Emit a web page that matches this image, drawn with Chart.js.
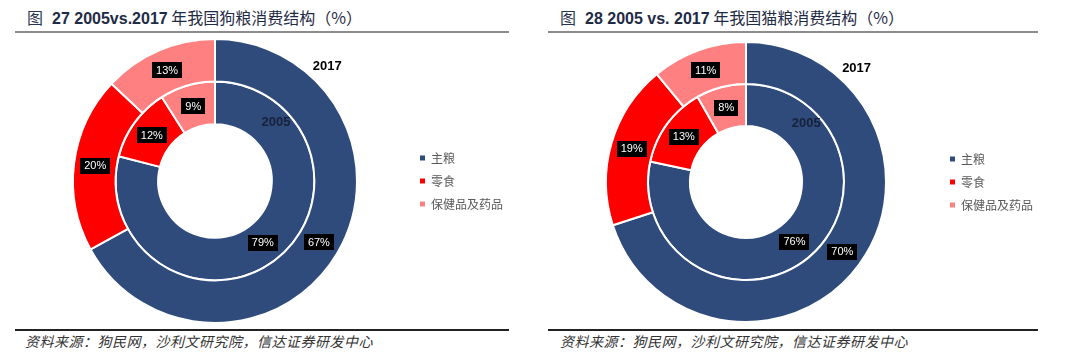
<!DOCTYPE html>
<html>
<head>
<meta charset="utf-8">
<script src="https://cdn.jsdelivr.net/npm/chart.js@4.4.1/dist/chart.umd.min.js"></script>
<style>
  body { margin: 0; width: 1080px; height: 361px; background: #fff; position: relative; overflow: hidden; }
  .title { position: absolute; top: 6px; white-space: nowrap; color: #1f2b45; font-family: "Noto Sans CJK SC", sans-serif; font-size: 16px; line-height: 22px; }
  .title b { font-family: "Liberation Sans", Arial, sans-serif; font-size: 16px; }
  .title .fig { margin-right: 9px; color: #2a3550; }
  .rule { position: absolute; height: 2px; }
  .src { position: absolute; top: 331px; font-family: "Noto Sans CJK SC", sans-serif; font-style: italic; font-size: 14px; letter-spacing: 0.5px; color: #333; white-space: nowrap; }
  canvas { position: absolute; }
</style>
</head>
<body>
<div class="title" style="left:27px"><span class="fig">图</span><b>27 2005vs.2017</b> 年我国狗粮消费结构（%）</div>
<div class="rule" style="left:15px; width:494px; top:31px; background:#8c8c8c"></div>
<div class="rule" style="left:15px; width:494px; top:329px; background:#222"></div>
<div class="src" style="left:25px">资料来源：狗民网，沙利文研究院，信达证券研发中心</div>

<div class="title" style="left:560px"><span class="fig">图</span><b>28 2005 vs. 2017</b> 年我国猫粮消费结构（%）</div>
<div class="rule" style="left:548px; width:490px; top:31px; background:#8c8c8c"></div>
<div class="rule" style="left:548px; width:490px; top:329px; background:#222"></div>
<div class="src" style="left:560px">资料来源：狗民网，沙利文研究院，信达证券研发中心</div>

<canvas id="dogChart" width="492" height="286" style="left:21px; top:38px"></canvas>
<canvas id="catChart" width="490" height="282" style="left:553px; top:41px"></canvas>

<script>
var categories = ["主粮", "零食", "保健品及药品"];
var years = ["2017", "2005"];
var dog2017 = [67, 20, 13];
var dog2005 = [79, 12, 9];
var cat2017 = [70, 19, 11];
var cat2005 = [76, 13, 8];
var colors = ["#2f4b7c", "#ff0000", "#ff8080"];

// black boxes with white percentage text, plus the ring year labels
var labelPlugin = {
    id: 'boxLabels',
    afterDatasetsDraw: function(chart) {
        var ctx = chart.ctx;
        ctx.save();
        ctx.font = '11px "Liberation Sans", Arial, sans-serif';
        ctx.textAlign = 'center';
        ctx.textBaseline = 'middle';
        chart.data.datasets.forEach(function(ds, i) {
            var meta = chart.getDatasetMeta(i);
            meta.data.forEach(function(arc, j) {
                var p = arc.tooltipPosition();
                var txt = ds.data[j] + '%';
                var w = ctx.measureText(txt).width + 8;
                ctx.fillStyle = '#000';
                ctx.fillRect(Math.round(p.x - w / 2), Math.round(p.y - 8), Math.round(w), 16);
                ctx.fillStyle = '#fff';
                ctx.fillText(txt, p.x, p.y + 0.5);
            });
        });
        // year labels next to each ring
        var arc0 = chart.getDatasetMeta(0).data[0];
        var cx = arc0.x, cy = arc0.y, r = arc0.outerRadius;
        ctx.font = 'bold 13px "Liberation Sans", Arial, sans-serif';
        ctx.fillStyle = '#000';
        ctx.fillText(chart.data.datasets[0].label, cx + r * 0.79, cy - r * 0.81);
        ctx.fillStyle = '#17213a';
        ctx.fillText(chart.data.datasets[1].label, cx + r * 0.43, cy - r * 0.415);
        ctx.restore();
    }
};

function makeChart(id, outer, inner) {
    var ctx = document.getElementById(id).getContext('2d');
    return new Chart(ctx, {
        type: 'doughnut',
        data: {
            labels: categories,
            datasets: [{
                label: years[0],
                data: outer,
                backgroundColor: colors,
                borderColor: '#fff',
                borderWidth: 2
            }, {
                label: years[1],
                data: inner,
                backgroundColor: colors,
                borderColor: '#fff',
                borderWidth: 2
            }]
        },
        options: {
            responsive: false,
            animation: false,
            cutout: '40%',
            layout: { padding: 0 },
            plugins: {
                tooltip: { enabled: false },
                legend: {
                    position: 'right',
                    labels: {
                        boxWidth: 5,
                        boxHeight: 5,
                        padding: 11,
                        color: '#595959',
                        font: { family: '"Noto Sans CJK SC", sans-serif', size: 12 },
                        generateLabels: function(chart) {
                            var items = Chart.overrides.doughnut.plugins.legend.labels.generateLabels(chart);
                            items.forEach(function(it) { it.lineWidth = 0; it.strokeStyle = 'rgba(0,0,0,0)'; });
                            return items;
                        }
                    }
                }
            }
        },
        plugins: [labelPlugin]
    });
}

makeChart('dogChart', dog2017, dog2005);
makeChart('catChart', cat2017, cat2005);
</script>
</body>
</html>
